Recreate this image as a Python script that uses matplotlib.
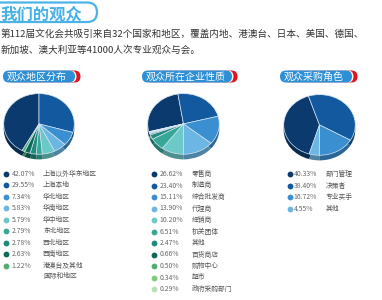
import matplotlib
matplotlib.use("Agg")
import matplotlib.pyplot as plt
import matplotlib.colors as mc
from matplotlib.patches import FancyBboxPatch

plt.rcParams['font.family'] = ['Noto Sans CJK SC', 'DejaVu Sans']

# ---------------- data ----------------
title = "我们的观众"
intro_lines = ["第112届文化会共吸引来自32个国家和地区，覆盖内地、港澳台、日本、美国、德国、",
               "新加坡、澳大利亚等41000人次专业观众与会。"]

sec1_title = "观众地区分布"
sec1_labels = ["上海以外华东地区", "上海本地", "华北地区", "华南地区", "华中地区",
               "东北地区", "西北地区", "西南地区", "港澳台及其他\n国际和地区"]
sec1_values = [42.07, 29.55, 7.34, 5.83, 5.79, 2.79, 2.78, 2.63, 1.22]

sec2_title = "观众所在企业性质"
sec2_labels = ["零售商", "制造商", "综合批发商", "代理商", "经销商", "机关团体",
               "其他", "百货商店", "购物中心", "超市", "政府采购部门"]
sec2_values = [26.62, 23.40, 15.11, 13.90, 10.20, 6.51, 2.47, 0.66, 0.50, 0.34, 0.29]

sec3_title = "观众采购角色"
sec3_labels = ["部门管理", "决策者", "专业买手", "其他"]
sec3_values = [40.33, 38.40, 16.72, 4.55]

palette = ['#0b3a6e', '#13599f', '#3a8fd0', '#6bb6e3', '#6dc8c8', '#37a898',
           '#1f8b7c', '#0b6a5a', '#52ad6e', '#7dcb7d', '#b7e0b7']

W, H = 382, 300
fig = plt.figure(figsize=(W / 100, H / 100), dpi=100)
bg = fig.add_axes([0, 0, 1, 1])
bg.set_xlim(0, W)
bg.set_ylim(H, 0)
bg.axis('off')

# title with open rounded frame
bg.add_patch(FancyBboxPatch((-20, 2.5), 117, 19.5, boxstyle="round,pad=0,rounding_size=9.7",
                            facecolor='none', edgecolor='#4cb3e8', lw=1.6))
bg.text(0, 20, title, fontsize=11.8, fontweight='bold', color='#47b0e6',
        va='baseline', ha='left')

for i, line in enumerate(intro_lines):
    bg.text(1, 37 + i * 15.5, line, fontsize=6.9, color='#333333', va='baseline', ha='left')


def pill(x0, x1, y0, y1, text):
    r = (y1 - y0) / 2
    bg.add_patch(FancyBboxPatch((x0 + 4, y0), x1 - x0 + 1.5, y1 - y0,
                                boxstyle=f"round,pad=0,rounding_size={r}",
                                facecolor='#e0141e', edgecolor='none'))
    bg.add_patch(FancyBboxPatch((x0, y0), x1 - x0 + 1.5, y1 - y0,
                                boxstyle=f"round,pad=0,rounding_size={r}",
                                facecolor='white', edgecolor='none'))
    bg.add_patch(FancyBboxPatch((x0, y0), x1 - x0, y1 - y0,
                                boxstyle=f"round,pad=0,rounding_size={r}",
                                facecolor='#2d8fd5', edgecolor='none'))
    bg.text(x0 + 4, (y0 + y1) / 2 + 3, text, fontsize=7.2, color='white',
            va='baseline', ha='left')


def darker(c, f=0.72):
    r, g, b = mc.to_rgb(c)
    return (r * f, g * f, b * f)


def pie3d(x0, x1, ytop, ybot, values, end_angle):
    depth = 0.17
    ax = fig.add_axes([x0 / W, 1 - ybot / H, (x1 - x0) / W, (ybot - ytop) / H])
    cols = palette[:len(values)]
    start = end_angle + values[0] * 3.6
    ax.pie(values, colors=[darker(c) for c in cols], startangle=start,
           counterclock=False, center=(0, -depth), radius=1,
           wedgeprops=dict(linewidth=0))
    ax.pie(values, colors=cols, startangle=start, counterclock=False,
           center=(0, 0), radius=1,
           wedgeprops=dict(linewidth=0.5, edgecolor='#d6e6f3'))
    ax.set_aspect('auto')
    ax.set_xlim(-1.02, 1.02)
    ax.set_ylim(-1 - depth - 0.02, 1.02)
    ax.axis('off')


def legend(xm, xp, xl, y0, dy, values, labels):
    for i, (v, lab) in enumerate(zip(values, labels)):
        y = y0 + i * dy
        bg.plot(xm, y, 'o', color=palette[i], markersize=4.2, markeredgewidth=0)
        bg.text(xp, y + 2, f"{v:.2f}%", fontsize=4.9, color='#666666',
                va='baseline', ha='left')
        for k, part in enumerate(lab.split("\n")):
            bg.text(xl, y + 2 + k * 10.5, part, fontsize=4.9, color='#555555',
                    va='baseline', ha='left')


pill(3, 75, 70.5, 82.5, sec1_title)
pill(142, 232, 70.5, 82.5, sec2_title)
pill(280, 352, 70.5, 82.5, sec3_title)

pie3d(3, 75, 93, 160, sec1_values, 90)
pie3d(147, 220, 93, 160, sec2_values, 99)
pie3d(283, 356, 94, 161, sec3_values, 108)

legend(6, 11.5, 43, 174, 11.45, sec1_values, sec1_labels)
legend(154, 159.5, 192, 174, 11.5, sec2_values, sec2_labels)
legend(290, 293.5, 326, 174, 11.6, sec3_values, sec3_labels)

fig.savefig("out.png", dpi=100)
